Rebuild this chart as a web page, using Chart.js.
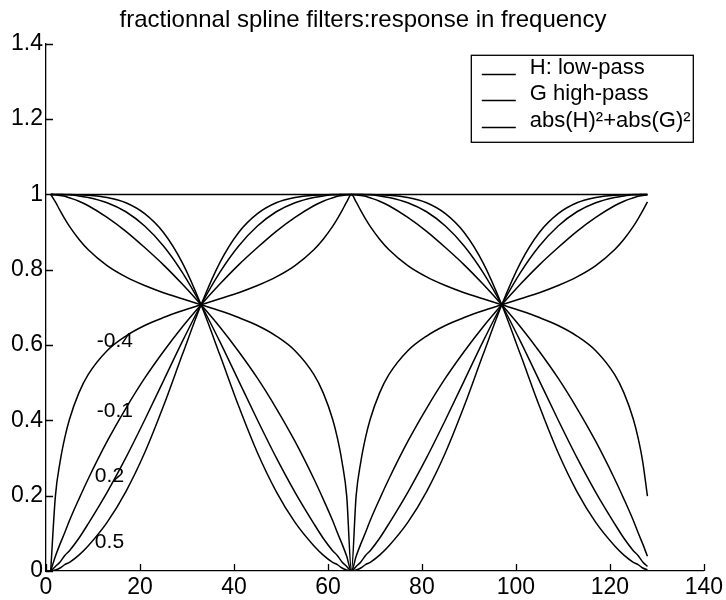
<!DOCTYPE html>
<html>
<head>
<meta charset="utf-8">
<script src="https://cdn.jsdelivr.net/npm/chart.js@4.4.0/dist/chart.umd.min.js"></script>
<style>
  html, body { margin: 0; padding: 0; background: #fff; }
</style>
</head>
<body>
<canvas id="chart" width="726" height="600"></canvas>
<script>
const titleText = 'fractionnal spline filters:response in frequency';
const legendLabels = ['H: low-pass', 'G high-pass', 'abs(H)\u00b2+abs(G)\u00b2'];
const alphaLabels = ['-0.4', '-0.1', '0.2', '0.5'];

// frequency sample index
const xValues = [1, 2, 3, 4, 5, 7, 9, 13, 17, 21, 25, 29, 33,
  37, 41, 45, 49, 53, 57, 59, 61, 62, 63, 64, 65,
  66, 67, 68, 69, 71, 73, 77, 81, 85, 89, 93, 97,
  101, 105, 109, 113, 117, 121, 123, 125, 126, 127, 128];

// alpha = -0.4
const lowM04 = [1, 0.980, 0.957, 0.935, 0.915, 0.881, 0.853, 0.811, 0.781, 0.758, 0.739, 0.723, 0.707,
  0.691, 0.673, 0.652, 0.624, 0.585, 0.522, 0.473, 0.403, 0.354, 0.290, 0.199, 0,
  0.199, 0.290, 0.354, 0.403, 0.473, 0.522, 0.585, 0.624, 0.652, 0.673, 0.691, 0.707,
  0.723, 0.739, 0.758, 0.781, 0.811, 0.853, 0.881, 0.915, 0.935, 0.957, 0.980];
const highM04 = [0, 0.199, 0.290, 0.354, 0.403, 0.473, 0.522, 0.585, 0.624, 0.652, 0.673, 0.691, 0.707,
  0.723, 0.739, 0.758, 0.781, 0.811, 0.853, 0.881, 0.915, 0.935, 0.957, 0.980, 1,
  0.980, 0.957, 0.935, 0.915, 0.881, 0.853, 0.811, 0.781, 0.758, 0.739, 0.723, 0.707,
  0.691, 0.673, 0.652, 0.624, 0.585, 0.522, 0.473, 0.403, 0.354, 0.290, 0.199];

// alpha = -0.1
const lowM01 = [1, 0.999, 0.997, 0.995, 0.991, 0.982, 0.970, 0.939, 0.902, 0.859, 0.813, 0.762, 0.707,
  0.648, 0.583, 0.512, 0.432, 0.344, 0.245, 0.191, 0.134, 0.102, 0.072, 0.039, 0,
  0.039, 0.072, 0.102, 0.134, 0.191, 0.245, 0.344, 0.432, 0.512, 0.583, 0.648, 0.707,
  0.762, 0.813, 0.859, 0.902, 0.939, 0.970, 0.982, 0.991, 0.995, 0.997, 0.999];
const highM01 = [0, 0.039, 0.072, 0.102, 0.134, 0.191, 0.245, 0.344, 0.432, 0.512, 0.583, 0.648, 0.707,
  0.762, 0.813, 0.859, 0.902, 0.939, 0.970, 0.982, 0.991, 0.995, 0.997, 0.999, 1,
  0.999, 0.997, 0.995, 0.991, 0.982, 0.970, 0.939, 0.902, 0.859, 0.813, 0.762, 0.707,
  0.648, 0.583, 0.512, 0.432, 0.344, 0.245, 0.191, 0.134, 0.102, 0.072, 0.039];

// alpha = 0.2
const lowP02 = [1, 1, 1, 0.999, 0.999, 0.996, 0.992, 0.978, 0.954, 0.916, 0.863, 0.793, 0.707,
  0.609, 0.505, 0.401, 0.301, 0.209, 0.126, 0.087, 0.054, 0.041, 0.024, 0.012, 0,
  0.012, 0.024, 0.041, 0.054, 0.087, 0.126, 0.209, 0.301, 0.401, 0.505, 0.609, 0.707,
  0.793, 0.863, 0.916, 0.954, 0.978, 0.992, 0.996, 0.999, 0.999, 1, 1];
const highP02 = [0, 0.012, 0.024, 0.041, 0.054, 0.087, 0.126, 0.209, 0.301, 0.401, 0.505, 0.609, 0.707,
  0.793, 0.863, 0.916, 0.954, 0.978, 0.992, 0.996, 0.999, 0.999, 1, 1, 1,
  1, 1, 0.999, 0.999, 0.996, 0.992, 0.978, 0.954, 0.916, 0.863, 0.793, 0.707,
  0.609, 0.505, 0.401, 0.301, 0.209, 0.126, 0.087, 0.054, 0.041, 0.024, 0.012];

// alpha = 0.5
const lowP05 = [1, 1, 1, 1, 1, 0.999, 0.998, 0.992, 0.978, 0.949, 0.899, 0.819, 0.707,
  0.574, 0.438, 0.314, 0.211, 0.129, 0.067, 0.042, 0.023, 0.017, 0.008, 0.003, 0,
  0.003, 0.008, 0.017, 0.023, 0.042, 0.067, 0.129, 0.211, 0.314, 0.438, 0.574, 0.707,
  0.819, 0.899, 0.949, 0.978, 0.992, 0.998, 0.999, 1, 1, 1, 1];
const highP05 = [0, 0.003, 0.008, 0.017, 0.023, 0.042, 0.067, 0.129, 0.211, 0.314, 0.438, 0.574, 0.707,
  0.819, 0.899, 0.949, 0.978, 0.992, 0.998, 0.999, 1, 1, 1, 1, 1,
  1, 1, 1, 1, 0.999, 0.998, 0.992, 0.978, 0.949, 0.899, 0.819, 0.707,
  0.574, 0.438, 0.314, 0.211, 0.129, 0.067, 0.042, 0.023, 0.017, 0.008, 0.003];

// abs(H)^2 + abs(G)^2
const sumX = [1, 128];
const sumValues = [1, 1];

const FONT = "'Liberation Sans', Arial, sans-serif";

function pts(xs, ys) {
  return ys.map((y, i) => ({ x: xs[i], y }));
}

function line(label, xs, ys) {
  return {
    label,
    data: pts(xs, ys),
    borderColor: '#000',
    borderWidth: 1.5,
    pointRadius: 0,
    fill: false,
    cubicInterpolationMode: 'monotone'
  };
}

// inward ticks, curve labels and the boxed legend
const decor = {
  id: 'decor',
  afterDatasetsDraw(chart) {
    const { ctx, chartArea: a, scales: { x, y } } = chart;
    ctx.save();
    ctx.strokeStyle = '#000';
    ctx.lineWidth = 1.3;
    ctx.beginPath();
    x.ticks.forEach(t => {
      const px = Math.round(x.getPixelForValue(t.value)) + 0.5;
      ctx.moveTo(px, a.bottom);
      ctx.lineTo(px, a.bottom - 7);
    });
    y.ticks.forEach(t => {
      const py = Math.round(y.getPixelForValue(t.value)) + 0.5;
      ctx.moveTo(a.left, py);
      ctx.lineTo(a.left + 7, py);
    });
    ctx.stroke();

    ctx.fillStyle = '#000';
    ctx.textBaseline = 'alphabetic';
    ctx.textAlign = 'left';
    ctx.font = '21px ' + FONT;
    const spots = [[10.8, 0.594], [10.8, 0.408], [10.4, 0.236], [10.4, 0.061]];
    alphaLabels.forEach((s, i) => {
      ctx.fillText(s, x.getPixelForValue(spots[i][0]), y.getPixelForValue(spots[i][1]));
    });

    const bx = a.right - 233, by = a.top + 11, bw = 222, bh = 87;
    ctx.fillStyle = '#fff';
    ctx.fillRect(bx, by, bw, bh);
    ctx.strokeRect(bx + 0.5, by + 0.5, bw, bh);
    ctx.fillStyle = '#000';
    ctx.font = '22px ' + FONT;
    legendLabels.forEach((s, i) => {
      const base = by + 19 + i * 26.5;
      ctx.beginPath();
      ctx.moveTo(bx + 11, Math.round(base) + 0.5);
      ctx.lineTo(bx + 45, Math.round(base) + 0.5);
      ctx.stroke();
      ctx.fillText(s, bx + 59, base);
    });
    ctx.restore();
  }
};

const tickFont = { family: FONT, size: 23 };

new Chart(document.getElementById('chart'), {
  type: 'line',
  data: {
    datasets: [
      line('H -0.4', xValues, lowM04),
      line('G -0.4', xValues, highM04),
      line('H -0.1', xValues, lowM01),
      line('G -0.1', xValues, highM01),
      line('H 0.2', xValues, lowP02),
      line('G 0.2', xValues, highP02),
      line('H 0.5', xValues, lowP05),
      line('G 0.5', xValues, highP05),
      line('sum', sumX, sumValues)
    ]
  },
  options: {
    responsive: false,
    animation: false,
    events: [],
    plugins: {
      legend: { display: false },
      tooltip: { enabled: false },
      title: {
        display: true,
        text: titleText,
        color: '#000',
        font: { family: FONT, size: 24, weight: 'normal' },
        padding: { top: 6, bottom: 9 }
      }
    },
    scales: {
      x: {
        type: 'linear',
        min: 0,
        max: 140,
        grid: { display: false, drawTicks: false },
        border: { display: true, color: '#000', width: 1.3 },
        ticks: { stepSize: 20, color: '#000', font: tickFont, padding: 3, maxRotation: 0 },
        afterFit(s) { s.height = 29; }
      },
      y: {
        type: 'linear',
        min: 0,
        max: 1.4,
        grid: { display: false, drawTicks: false },
        border: { display: true, color: '#000', width: 1.3 },
        ticks: {
          stepSize: 0.2,
          color: '#000',
          font: tickFont,
          padding: 3,
          callback: v => String(Math.round(v * 10) / 10)
        },
        afterFit(s) { s.width = 46; }
      }
    }
  },
  plugins: [decor]
});
</script>
</body>
</html>
